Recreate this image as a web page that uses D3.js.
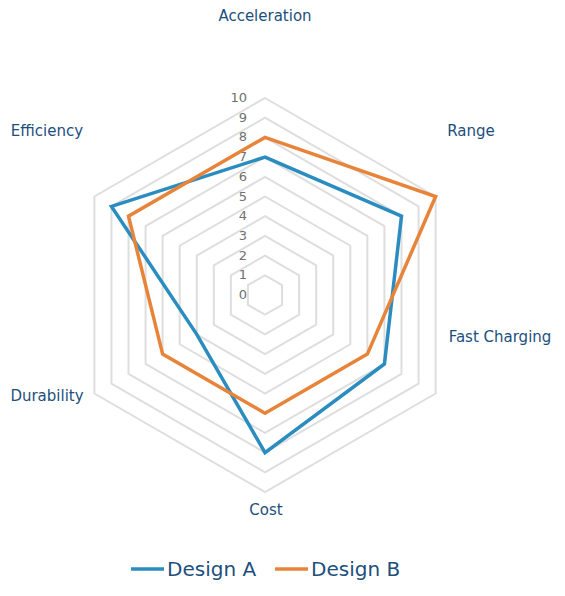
<!DOCTYPE html>
<html><head><meta charset="utf-8">
<script src="https://cdn.jsdelivr.net/npm/d3@7"></script>
<style>body{margin:0;background:#fff;font-family:Verdana,"DejaVu Sans",sans-serif}</style>
</head><body><svg id="c" width="565" height="596"></svg>
<script>
var axes = ["Acceleration", "Range", "Fast Charging", "Cost", "Durability", "Efficiency"];
var designA = [7, 8, 7, 8, 4, 9];
var designB = [8, 10, 6, 6, 6, 8];
var series = ["Design A", "Design B"];
var colors = ["#2a8cbf", "#e8843a"];
var ticks = [0, 1, 2, 3, 4, 5, 6, 7, 8, 9, 10];

var cx = 265, cy = 295;
var r = d3.scaleLinear().domain([0, 10]).range([0, 197]);
var ang = d3.scalePoint().domain(axes.concat(["_"])).range([0, 2 * Math.PI]);
function pt(a, v) { var t = ang(a); return [cx + r(v) * Math.sin(t), cy - r(v) * Math.cos(t)]; }

var svg = d3.select("#c");

// grid rings
svg.selectAll(".ring").data(ticks.slice(1)).enter().append("polygon")
  .attr("points", d => axes.map(a => pt(a, d)).join(" "))
  .attr("fill", "none").attr("stroke", "#dedede").attr("stroke-width", 2);

// tick labels
svg.selectAll(".tk").data(ticks).enter().append("text")
  .attr("x", 247).attr("y", d => cy - r(d) + 4)
  .attr("text-anchor", "end").attr("font-size", 13).attr("fill", "#707070")
  .text(d => d);

// series
[designA, designB].forEach(function (vals, i) {
  svg.append("polygon")
    .attr("points", axes.map((a, j) => pt(a, vals[j])).join(" "))
    .attr("fill", "none").attr("stroke", colors[i]).attr("stroke-width", 3.5);
});

// axis labels
var lab = { "Acceleration": [265, 21], "Range": [471, 136], "Fast Charging": [500, 342],
  "Cost": [266, 515], "Durability": [47, 401], "Efficiency": [47, 136] };
svg.selectAll(".ax").data(axes).enter().append("text")
  .attr("x", d => lab[d][0]).attr("y", d => lab[d][1]).attr("text-anchor", "middle")
  .attr("font-size", 15).attr("fill", "#1d4f7c").text(d => d);

// legend
var lg = svg.selectAll(".lg").data(series).enter().append("g")
  .attr("transform", (d, i) => "translate(" + (131 + i * 144) + ",569)");
lg.append("line").attr("x1", 0).attr("x2", 33).attr("stroke", (d, i) => colors[i]).attr("stroke-width", 3.5);
lg.append("text").attr("x", 36).attr("y", 7).attr("font-size", 20).attr("fill", "#1d4f7c").text(d => d);
</script></body></html>
